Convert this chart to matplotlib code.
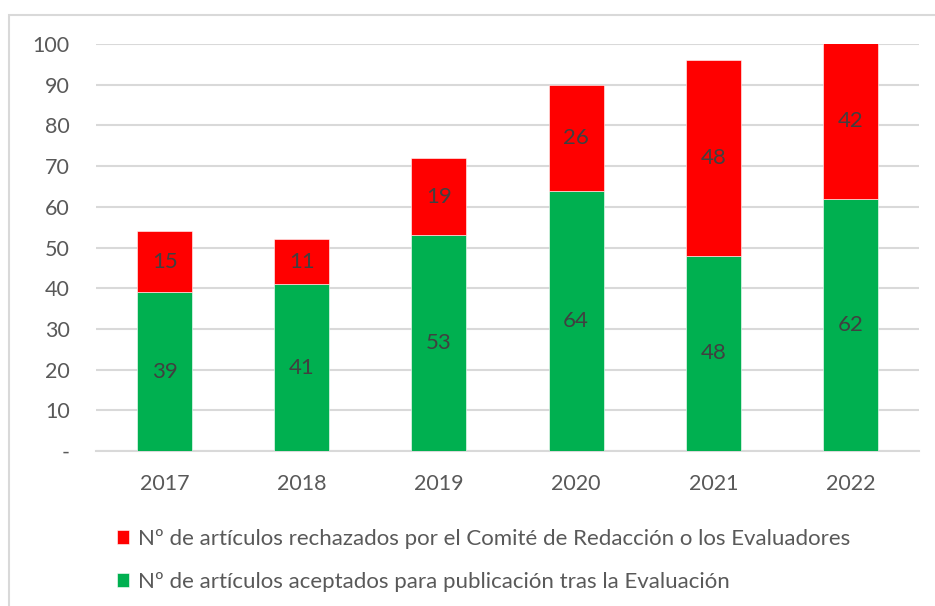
import matplotlib.pyplot as plt
from matplotlib.patches import Rectangle

years = ["2017", "2018", "2019", "2020", "2021", "2022"]
aceptados = [39, 41, 53, 64, 48, 62]
rechazados = [15, 11, 19, 26, 48, 42]
ytick_vals = [0, 10, 20, 30, 40, 50, 60, 70, 80, 90, 100]
ytick_labels = ["-", "10", "20", "30", "40", "50", "60", "70", "80", "90", "100"]

lbl_rech = "Nº de artículos rechazados por el Comité de Redacción o los Evaluadores"
lbl_acep = "Nº de artículos aceptados para publicación tras la Evaluación"

plt.rcParams['font.family'] = ['Lato', 'DejaVu Sans']

fig = plt.figure(figsize=(9.35, 6.06), dpi=100)
ax = fig.add_axes([96/935, 1 - 451/606, (919-96)/935, (451-44)/606])

# grey frame around the chart (cut off at right and bottom like the source)
fig.patches.append(Rectangle((9/935, -0.05), 1.2, 1 - 15/606 + 0.05,
                             transform=fig.transFigure, fill=False,
                             edgecolor="#D9D9D9", linewidth=1.5))

x = range(len(years))
green = "#00B050"
red = "#FF0000"
b1 = ax.bar(x, aceptados, width=0.4, color=green, edgecolor="white",
            linewidth=0.4, label=lbl_acep, zorder=3)
b2 = ax.bar(x, rechazados, width=0.4, bottom=aceptados, color=red,
            edgecolor="white", linewidth=0.4, label=lbl_rech, zorder=3)

ax.bar_label(b1, label_type="center", color="#404040", fontsize=16)
ax.bar_label(b2, label_type="center", color="#404040", fontsize=16)

ax.set_xlim(-0.5, len(years) - 0.5)
ax.set_ylim(0, 100)
ax.set_yticks(ytick_vals)
ax.set_yticklabels(ytick_labels)
ax.set_xticks(list(x))
ax.set_xticklabels(years)
ax.tick_params(axis="y", length=0, pad=19, labelsize=15.5, labelcolor="#595959")
ax.tick_params(axis="x", length=0, pad=16.5, labelsize=15.5, labelcolor="#595959")
ax.yaxis.grid(True, color="#D9D9D9", linewidth=1.5, zorder=0)
ax.set_axisbelow(True)
for s in ["top", "right", "left"]:
    ax.spines[s].set_visible(False)
ax.spines["bottom"].set_color("#D9D9D9")
ax.spines["bottom"].set_linewidth(1.5)

fig.legend([b2, b1], [lbl_rech, lbl_acep], loc="upper left",
           bbox_to_anchor=(117/935, 1 - 529/606), frameon=False,
           fontsize=16, labelcolor="#595959", handlelength=0.55,
           handleheight=0.55, handletextpad=0.4, labelspacing=1.03,
           borderpad=0, borderaxespad=0)

fig.savefig("out.png", dpi=100)
